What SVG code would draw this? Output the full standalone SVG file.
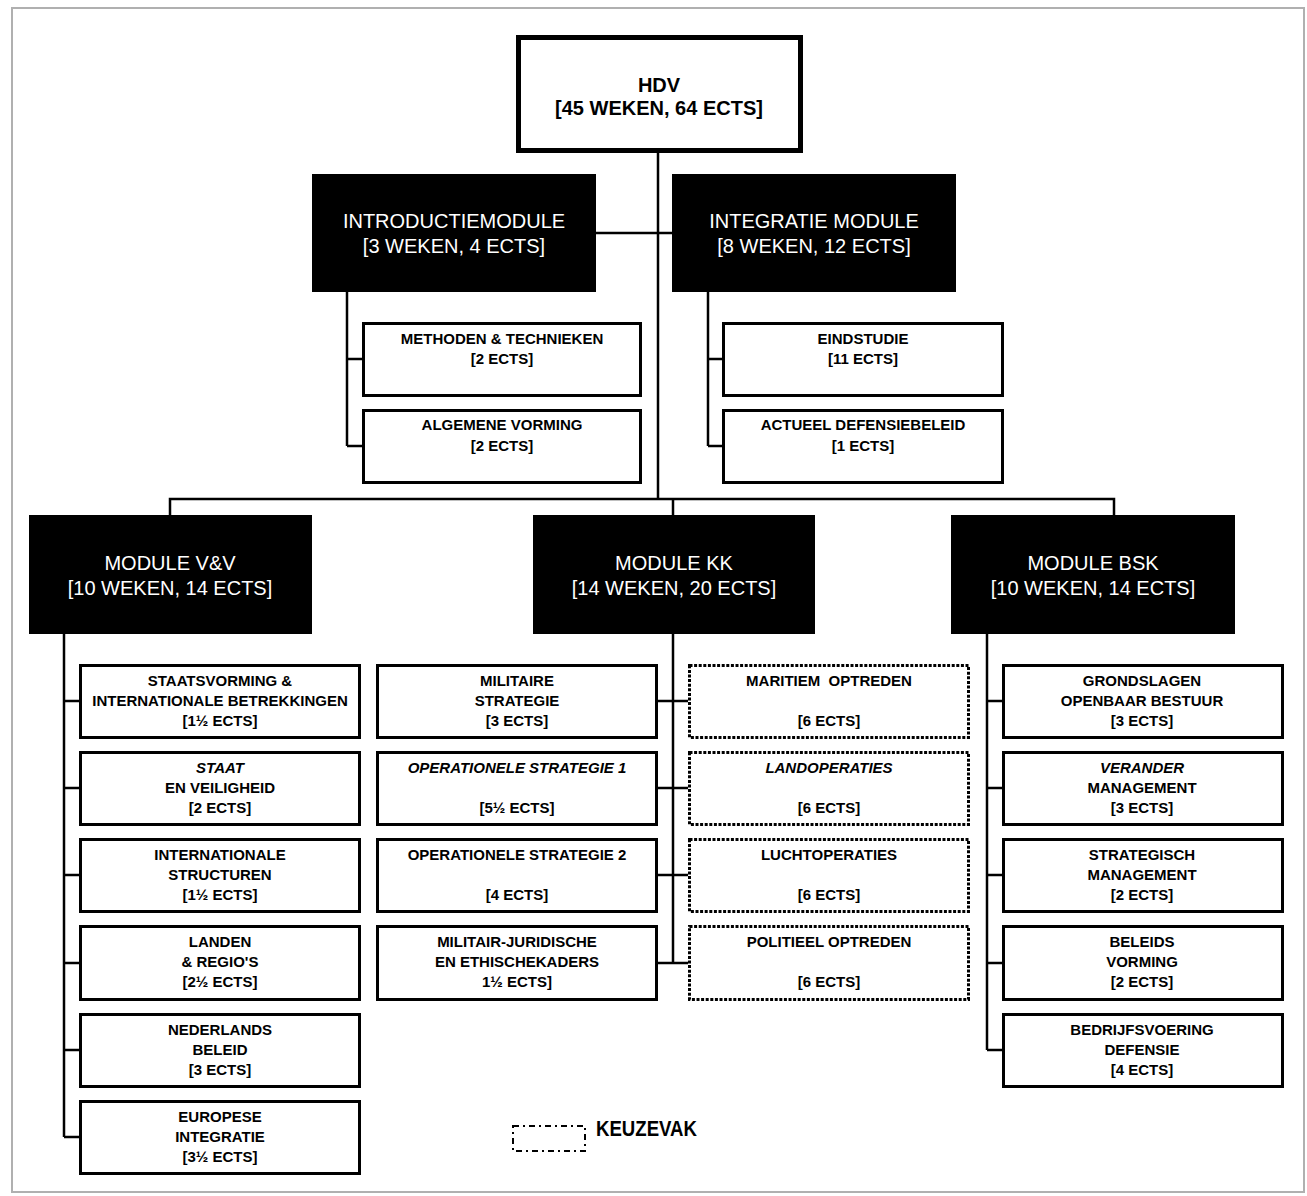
<svg xmlns="http://www.w3.org/2000/svg" width="1307" height="1196" viewBox="0 0 1307 1196">
<style>
.frame{fill:#fff;stroke:#b0b0b0;stroke-width:2}
.root{fill:#fff;stroke:#000;stroke-width:5}
.mod{fill:#000}
.box{fill:#fff;stroke:#000;stroke-width:3}
.opt{fill:#fff;stroke:#000;stroke-width:3;stroke-dasharray:3 1.6}
.leg{fill:none;stroke:#000;stroke-width:2;stroke-dasharray:6 4 2 4}
.conn path{fill:none;stroke:#000;stroke-width:2.5}
text{font-family:"Liberation Sans",Arial,sans-serif;text-anchor:middle}
.rt{font-size:20px;font-weight:bold;fill:#000}
.mt{font-size:20px;fill:#fff}
.bt{font-size:15px;font-weight:bold;fill:#000}
.it{font-style:italic}
.lt{font-size:22px;font-weight:bold;fill:#000;text-anchor:start}
</style>
<rect class="frame" x="12" y="8" width="1292" height="1184"/>
<g id="connectors" class="conn">
<path d="M658 153V499"/>
<path d="M596 233H672"/>
<path d="M347 292V446M347 359H362M347 446H362"/>
<path d="M708 292V446M708 359H722M708 446H722"/>
<path d="M170 515V499H1114V515"/>
<path d="M673 499V515"/>
<path d="M64 634V1137M64 701H79M64 788H79M64 875H79M64 963H79M64 1050H79M64 1137H79"/>
<path d="M673 634V963M658 701H688M658 788H688M658 875H688M658 963H688"/>
<path d="M987 634V1050M987 701H1002M987 788H1002M987 875H1002M987 963H1002M987 1050H1002"/>
</g>
<g id="hdv"><rect class="root" x="518.5" y="37.5" width="282" height="113"/>
<text class="rt" x="659" y="92">HDV</text><text class="rt" x="659" y="115">[45 WEKEN, 64 ECTS]</text></g>
<g id="intro"><rect class="mod" x="312" y="174" width="284" height="118"/>
<text class="mt" x="454" y="228">INTRODUCTIEMODULE</text><text class="mt" x="454" y="253">[3 WEKEN, 4 ECTS]</text></g>
<g id="integratie"><rect class="mod" x="672" y="174" width="284" height="118"/>
<text class="mt" x="814" y="228">INTEGRATIE MODULE</text><text class="mt" x="814" y="253">[8 WEKEN, 12 ECTS]</text></g>
<g id="methoden"><rect class="box" x="363.5" y="323.5" width="277" height="72"/>
<text class="bt" x="502" y="344">METHODEN &amp; TECHNIEKEN</text><text class="bt" x="502" y="364">[2 ECTS]</text></g>
<g id="algemene"><rect class="box" x="363.5" y="410.5" width="277" height="72"/>
<text class="bt" x="502" y="430">ALGEMENE VORMING</text><text class="bt" x="502" y="451">[2 ECTS]</text></g>
<g id="eindstudie"><rect class="box" x="723.5" y="323.5" width="279" height="72"/>
<text class="bt" x="863" y="344">EINDSTUDIE</text><text class="bt" x="863" y="364">[11 ECTS]</text></g>
<g id="actueel"><rect class="box" x="723.5" y="410.5" width="279" height="72"/>
<text class="bt" x="863" y="430">ACTUEEL DEFENSIEBELEID</text><text class="bt" x="863" y="451">[1 ECTS]</text></g>
<g id="vv"><rect class="mod" x="29" y="515" width="283" height="119"/>
<text class="mt" x="170" y="570">MODULE V&amp;V</text><text class="mt" x="170" y="595">[10 WEKEN, 14 ECTS]</text></g>
<g id="kk"><rect class="mod" x="533" y="515" width="282" height="119"/>
<text class="mt" x="674" y="570">MODULE KK</text><text class="mt" x="674" y="595">[14 WEKEN, 20 ECTS]</text></g>
<g id="bsk"><rect class="mod" x="951" y="515" width="284" height="119"/>
<text class="mt" x="1093" y="570">MODULE BSK</text><text class="mt" x="1093" y="595">[10 WEKEN, 14 ECTS]</text></g>
<g id="vv1"><rect class="box" x="80.5" y="665.5" width="279" height="72"/>
<text class="bt" x="220" y="686">STAATSVORMING &amp;</text><text class="bt" x="220" y="706">INTERNATIONALE BETREKKINGEN</text><text class="bt" x="220" y="726">[1½ ECTS]</text></g>
<g id="vv2"><rect class="box" x="80.5" y="752.5" width="279" height="72"/>
<text class="bt it" x="220" y="773">STAAT</text><text class="bt" x="220" y="793">EN VEILIGHEID</text><text class="bt" x="220" y="813">[2 ECTS]</text></g>
<g id="vv3"><rect class="box" x="80.5" y="839.5" width="279" height="72"/>
<text class="bt" x="220" y="860">INTERNATIONALE</text><text class="bt" x="220" y="880">STRUCTUREN</text><text class="bt" x="220" y="900">[1½ ECTS]</text></g>
<g id="vv4"><rect class="box" x="80.5" y="926.5" width="279" height="73"/>
<text class="bt" x="220" y="947">LANDEN</text><text class="bt" x="220" y="967">&amp; REGIO'S</text><text class="bt" x="220" y="987">[2½ ECTS]</text></g>
<g id="vv5"><rect class="box" x="80.5" y="1014.5" width="279" height="72"/>
<text class="bt" x="220" y="1035">NEDERLANDS</text><text class="bt" x="220" y="1055">BELEID</text><text class="bt" x="220" y="1075">[3 ECTS]</text></g>
<g id="vv6"><rect class="box" x="80.5" y="1101.5" width="279" height="72"/>
<text class="bt" x="220" y="1122">EUROPESE</text><text class="bt" x="220" y="1142">INTEGRATIE</text><text class="bt" x="220" y="1162">[3½ ECTS]</text></g>
<g id="kk1"><rect class="box" x="377.5" y="665.5" width="279" height="72"/>
<text class="bt" x="517" y="686">MILITAIRE</text><text class="bt" x="517" y="706">STRATEGIE</text><text class="bt" x="517" y="726">[3 ECTS]</text></g>
<g id="kk2"><rect class="box" x="377.5" y="752.5" width="279" height="72"/>
<text class="bt it" x="517" y="773">OPERATIONELE STRATEGIE 1</text><text class="bt" x="517" y="813">[5½ ECTS]</text></g>
<g id="kk3"><rect class="box" x="377.5" y="839.5" width="279" height="72"/>
<text class="bt" x="517" y="860">OPERATIONELE STRATEGIE 2</text><text class="bt" x="517" y="900">[4 ECTS]</text></g>
<g id="kk4"><rect class="box" x="377.5" y="926.5" width="279" height="73"/>
<text class="bt" x="517" y="947">MILITAIR-JURIDISCHE</text><text class="bt" x="517" y="967">EN ETHISCHEKADERS</text><text class="bt" x="517" y="987">1½ ECTS]</text></g>
<g id="kk5"><rect class="opt" x="689.5" y="665.5" width="279" height="72"/>
<text class="bt" x="829" y="686" xml:space="preserve">MARITIEM  OPTREDEN</text><text class="bt" x="829" y="726">[6 ECTS]</text></g>
<g id="kk6"><rect class="opt" x="689.5" y="752.5" width="279" height="72"/>
<text class="bt it" x="829" y="773">LANDOPERATIES</text><text class="bt" x="829" y="813">[6 ECTS]</text></g>
<g id="kk7"><rect class="opt" x="689.5" y="839.5" width="279" height="72"/>
<text class="bt" x="829" y="860">LUCHTOPERATIES</text><text class="bt" x="829" y="900">[6 ECTS]</text></g>
<g id="kk8"><rect class="opt" x="689.5" y="926.5" width="279" height="73"/>
<text class="bt" x="829" y="947">POLITIEEL OPTREDEN</text><text class="bt" x="829" y="987">[6 ECTS]</text></g>
<g id="bsk1"><rect class="box" x="1003.5" y="665.5" width="279" height="72"/>
<text class="bt" x="1142" y="686">GRONDSLAGEN</text><text class="bt" x="1142" y="706">OPENBAAR BESTUUR</text><text class="bt" x="1142" y="726">[3 ECTS]</text></g>
<g id="bsk2"><rect class="box" x="1003.5" y="752.5" width="279" height="72"/>
<text class="bt it" x="1142" y="773">VERANDER</text><text class="bt" x="1142" y="793">MANAGEMENT</text><text class="bt" x="1142" y="813">[3 ECTS]</text></g>
<g id="bsk3"><rect class="box" x="1003.5" y="839.5" width="279" height="72"/>
<text class="bt" x="1142" y="860">STRATEGISCH</text><text class="bt" x="1142" y="880">MANAGEMENT</text><text class="bt" x="1142" y="900">[2 ECTS]</text></g>
<g id="bsk4"><rect class="box" x="1003.5" y="926.5" width="279" height="73"/>
<text class="bt" x="1142" y="947">BELEIDS</text><text class="bt" x="1142" y="967">VORMING</text><text class="bt" x="1142" y="987">[2 ECTS]</text></g>
<g id="bsk5"><rect class="box" x="1003.5" y="1014.5" width="279" height="72"/>
<text class="bt" x="1142" y="1035">BEDRIJFSVOERING</text><text class="bt" x="1142" y="1055">DEFENSIE</text><text class="bt" x="1142" y="1075">[4 ECTS]</text></g>
<g id="legend"><rect class="leg" x="513" y="1126" width="72" height="25"/>
<text class="lt" x="596" y="1136" textLength="101" lengthAdjust="spacingAndGlyphs">KEUZEVAK</text></g>
</svg>
